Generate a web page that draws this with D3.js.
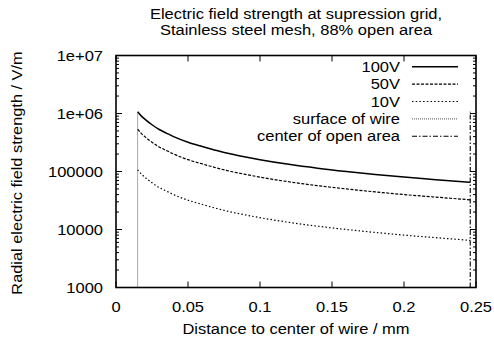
<!DOCTYPE html>
<html>
<head lang="en">
  <title>E-field at suppression grid</title>
  <script src="https://d3js.org/d3.v7.min.js" charset="utf-8"></script>
  <style>
    body { margin: 0; background: #fff; }
    text { font-family: "Liberation Sans", Arial, sans-serif; fill: #000; }
  </style>
</head>
<body>
  <script>

    // data (distance in mm, field in V/m)
    var distance = [0.015, 0.0175, 0.02, 0.025, 0.03, 0.035, 0.04, 0.05, 0.06, 0.07,
                    0.08, 0.09, 0.1, 0.12, 0.14, 0.16, 0.18, 0.2, 0.22, 0.246];
    var field100 = [1.07e6, 9.1e5, 8.0e5, 6.4e5, 5.3e5, 4.6e5, 4.0e5, 3.2e5, 2.7e5, 2.3e5,
                    2.0e5, 1.78e5, 1.6e5, 1.33e5, 1.14e5, 1.0e5, 8.9e4, 8.0e4, 7.3e4, 6.5e4];
    var field50 = [5.35e5, 4.55e5, 4.0e5, 3.2e5, 2.65e5, 2.3e5, 2.0e5, 1.6e5, 1.35e5, 1.15e5,
                   1.0e5, 8.9e4, 8.0e4, 6.65e4, 5.7e4, 5.0e4, 4.45e4, 4.0e4, 3.65e4, 3.25e4];
    var field10 = [1.07e5, 9.1e4, 8.0e4, 6.4e4, 5.3e4, 4.6e4, 4.0e4, 3.2e4, 2.7e4, 2.3e4,
                   2.0e4, 1.78e4, 1.6e4, 1.33e4, 1.14e4, 1.0e4, 8.9e3, 8.0e3, 7.3e3, 6.5e3];
    var wireSurface = [[0.015, 1000], [0.015, 1.07e6]];
    var openCenter = [[0.246, 1000], [0.246, 1.07e6]];

    var xTicks = [0, 0.05, 0.1, 0.15, 0.2, 0.25];
    var xTickLabels = ["0", "0.05", "0.1", "0.15", "0.2", "0.25"];
    var yTicks = [1e3, 1e4, 1e5, 1e6, 1e7];
    var yTickLabels = ["1000", "10000", "100000", "1e+06", "1e+07"];

    var legendNames = ["100V", "50V", "10V", "surface of wire", "center of open area"];

    var width = 494, height = 343;
    var margin = {top: 55.5, right: 18, bottom: 55.5, left: 116};
    var fontSize = "15px";
    var sx = 1.1; // the original image text is a bit wider than it is tall

    var svg = d3.select("body").append("svg")
      .attr("width", width)
      .attr("height", height);

    var x = d3.scaleLinear()
      .domain([0, 0.25])
      .range([margin.left, width - margin.right]);

    var y = d3.scaleLog()
      .domain([1e3, 1e7])
      .range([height - margin.bottom, margin.top]);

    // place a text at (px, py) with the horizontal stretch
    function at(px, py) {
      return "translate(" + px + "," + py + ") scale(" + sx + ",1)";
    }

    // line styles per series
    var styles = [
      {dash: null, width: 1.5, color: "#000"},
      {dash: "3,1.5", width: 1.2, color: "#000"},
      {dash: "1.5,2.2", width: 1.2, color: "#000"},
      {dash: "1,1", width: 1, color: "#555"},
      {dash: "5,2,1.5,2", width: 1.1, color: "#000"}
    ];

    var series = [
      distance.map(function(d, i) { return [d, field100[i]]; }),
      distance.map(function(d, i) { return [d, field50[i]]; }),
      distance.map(function(d, i) { return [d, field10[i]]; }),
      wireSurface,
      openCenter
    ];

    var line = d3.line()
      .x(function(d) { return x(d[0]); })
      .y(function(d) { return y(d[1]); })
      .curve(d3.curveMonotoneX);

    var straight = d3.line()
      .x(function(d) { return x(d[0]); })
      .y(function(d) { return y(d[1]); });

    svg.append("g").selectAll("path")
      .data(series)
      .enter().append("path")
        .attr("d", function(d, i) { return i < 3 ? line(d) : straight(d); })
        .attr("fill", "none")
        .attr("stroke", function(d, i) { return styles[i].color; })
        .attr("stroke-width", function(d, i) { return styles[i].width; })
        .attr("stroke-dasharray", function(d, i) { return styles[i].dash; });

    // axes: major ticks + minor log ticks, mirrored on top/right
    var minorY = [];
    [1e3, 1e4, 1e5, 1e6].forEach(function(p) {
      for (var k = 2; k <= 9; k++) minorY.push(p * k);
    });

    var x0 = x.range()[0], x1 = x.range()[1];
    var y0 = y.range()[0], y1 = y.range()[1];
    var ticks = svg.append("g").attr("stroke", "#000").attr("stroke-width", 1);

    xTicks.forEach(function(t) {
      ticks.append("line").attr("x1", x(t)).attr("x2", x(t)).attr("y1", y0).attr("y2", y0 - 6);
      ticks.append("line").attr("x1", x(t)).attr("x2", x(t)).attr("y1", y1).attr("y2", y1 + 6);
    });
    yTicks.forEach(function(t) {
      ticks.append("line").attr("x1", x0).attr("x2", x0 + 6).attr("y1", y(t)).attr("y2", y(t));
      ticks.append("line").attr("x1", x1).attr("x2", x1 - 6).attr("y1", y(t)).attr("y2", y(t));
    });
    minorY.forEach(function(t) {
      ticks.append("line").attr("x1", x0).attr("x2", x0 + 3).attr("y1", y(t)).attr("y2", y(t));
      ticks.append("line").attr("x1", x1).attr("x2", x1 - 3).attr("y1", y(t)).attr("y2", y(t));
    });

    svg.append("rect")
      .attr("x", x0).attr("y", y1)
      .attr("width", x1 - x0).attr("height", y0 - y1)
      .attr("fill", "none")
      .attr("stroke", "#000")
      .attr("stroke-width", 1.6);

    svg.append("g").selectAll("text")
      .data(xTicks)
      .enter().append("text")
        .attr("transform", function(d) { return at(x(d), y0 + 24); })
        .attr("text-anchor", "middle")
        .attr("font-size", fontSize)
        .text(function(d, i) { return xTickLabels[i]; });

    svg.append("g").selectAll("text")
      .data(yTicks)
      .enter().append("text")
        .attr("transform", function(d) { return at(x0 - 13, y(d) + 5); })
        .attr("text-anchor", "end")
        .attr("font-size", fontSize)
        .text(function(d, i) { return yTickLabels[i]; });

    // axis titles
    svg.append("text")
      .attr("transform", at((x0 + x1) / 2, 334))
      .attr("text-anchor", "middle")
      .attr("font-size", fontSize)
      .text("Distance to center of wire / mm");

    svg.append("text")
      .attr("transform", "translate(21.5,173) rotate(-90) scale(1.09,1)")
      .attr("text-anchor", "middle")
      .attr("font-size", fontSize)
      .text("Radial electric field strength / V/m");

    svg.append("text")
      .attr("transform", at(296, 19.3))
      .attr("text-anchor", "middle")
      .attr("font-size", fontSize)
      .text("Electric field strength at supression grid,");

    svg.append("text")
      .attr("transform", at(296, 35))
      .attr("text-anchor", "middle")
      .attr("font-size", fontSize)
      .text("Stainless steel mesh, 88% open area");

    // legend
    var legend = svg.append("g").selectAll("g")
      .data(legendNames)
      .enter().append("g")
        .attr("transform", function(d, i) { return "translate(0," + (66.7 + i * 17.4) + ")"; });

    legend.append("text")
      .attr("transform", at(400, 5))
      .attr("text-anchor", "end")
      .attr("font-size", fontSize)
      .text(function(d) { return d; });

    legend.append("line")
      .attr("x1", 412).attr("x2", 458)
      .attr("y1", 0).attr("y2", 0)
      .attr("stroke", function(d, i) { return styles[i].color; })
      .attr("stroke-width", function(d, i) { return styles[i].width; })
      .attr("stroke-dasharray", function(d, i) { return styles[i].dash; });

  </script>
</body>
</html>
